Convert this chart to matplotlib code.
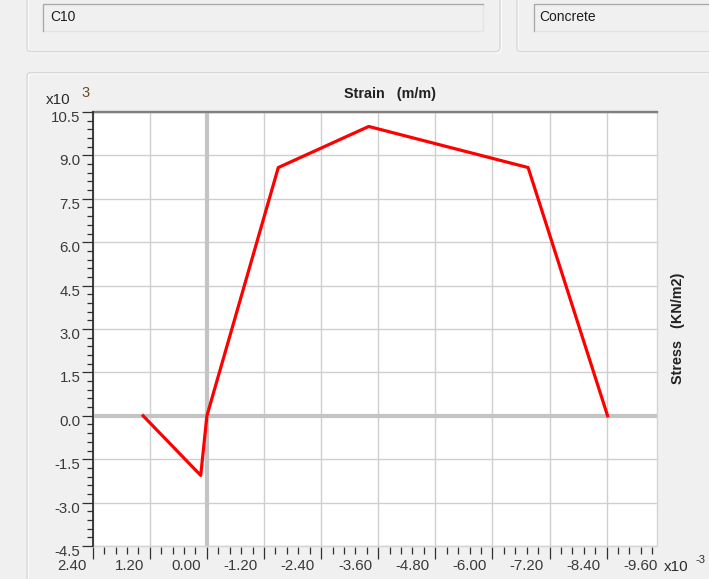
import numpy as np
import matplotlib
matplotlib.use('Agg')
import matplotlib.pyplot as plt
from matplotlib.ticker import MultipleLocator, AutoMinorLocator
from matplotlib.patches import Rectangle, FancyBboxPatch
from matplotlib.transforms import offset_copy, ScaledTranslation, blended_transform_factory

plt.rcParams['font.family'] = ['Liberation Sans', 'DejaVu Sans']

# stress-strain curve (strain x10^-3, stress x10^3 KN/m2)
strain = [1.34, 0.13, 0.0, -1.5, -3.4, -6.75, -8.42]
stress = [0.0, -2.06, 0.0, 8.58, 10.0, 8.58, 0.0]

x_ticks = [2.4, 1.2, 0.0, -1.2, -2.4, -3.6, -4.8, -6.0, -7.2, -8.4, -9.6]
x_labels = ['2.40', '1.20', '0.00', '-1.20', '-2.40', '-3.60', '-4.80',
            '-6.00', '-7.20', '-8.40', '-9.60']
y_ticks = [10.5, 9.0, 7.5, 6.0, 4.5, 3.0, 1.5, 0.0, -1.5, -3.0, -4.5]
y_labels = ['10.5', '9.0', '7.5', '6.0', '4.5', '3.0', '1.5', '0.0',
            '-1.5', '-3.0', '-4.5']

W, H = 709, 579
BG = '#f0f0f0'
TXT = '#3a3a3a'

fig = plt.figure(figsize=(W / 100, H / 100), dpi=100, facecolor=BG)

# window background with group boxes and text fields (pixel coords)
bg = fig.add_axes([0, 0, 1, 1], zorder=0)
bg.set_xlim(0, W)
bg.set_ylim(H, 0)
bg.axis('off')
bg.set_facecolor(BG)
for x0, y0, w, h in [(27, -20, 473, 71.7), (517, -20, 260, 71.7), (27, 72.7, 760, 560)]:
    bg.add_patch(FancyBboxPatch((x0 + 1, y0 + 1), w, h, boxstyle='round,pad=0,rounding_size=4',
                                fc='none', ec='white', lw=1))
    bg.add_patch(FancyBboxPatch((x0, y0), w, h, boxstyle='round,pad=0,rounding_size=4',
                                fc='none', ec='#d8d8d8', lw=1))
for x0, w in [(43, 440), (534, 220)]:
    bg.add_patch(Rectangle((x0, 4), w, 27, fc=BG, ec='#e4e4e4', lw=1))
    bg.plot([x0, x0, x0 + w], [31, 4, 4], color='#a8a8a8', lw=0.9)
bg.text(50, 17, 'C10', ha='left', va='center', fontsize=10, color='#1e1e1e')
bg.text(539, 17, 'Concrete', ha='left', va='center', fontsize=10, color='#1e1e1e')

# main plot
left, right, top, bottom = 92.7, 656.6, 112, 546
ax = fig.add_axes([left / W, 1 - bottom / H, (right - left) / W, (bottom - top) / H], zorder=1)
ax.set_facecolor('white')

ax.plot(strain, stress, color='#ff0000', lw=2.3, zorder=4)
ax.axhline(0, color='#c4c4c4', lw=3, zorder=2)
ax.axvline(0, color='#c4c4c4', lw=3, zorder=2)

ax.set_xlim(2.4, -9.45)
ax.set_ylim(-4.5, 10.5)
ax.xaxis.set_major_locator(MultipleLocator(1.2))
ax.xaxis.set_minor_locator(AutoMinorLocator(5))
ax.set_yticks(y_ticks)
ax.set_yticklabels(y_labels)
ax.yaxis.set_minor_locator(AutoMinorLocator(5))
ax.grid(which='major', color='#cfcfcf', lw=1.0, zorder=1)
ax.set_axisbelow(True)

for s in ['top', 'right', 'bottom', 'left']:
    ax.spines[s].set_visible(False)
ax.spines['bottom'].set_position(('outward', 1))
ax.add_patch(Rectangle((0, 0), 1, 1, transform=ax.transAxes, fill=False,
                       ec='#d4d4d4', lw=1, clip_on=False, zorder=5))
ax.plot([0, 1], [1, 1], transform=ax.transAxes, color='#808080', lw=1.7,
        clip_on=False, zorder=6)
ax.plot([0, 0], [0, 1], transform=ax.transAxes, color='#202020', lw=1.2,
        clip_on=False, zorder=6)

ax.tick_params(axis='x', which='major', direction='out', length=8.3, width=0.9,
               color='#303030', labelbottom=False)
ax.tick_params(axis='x', which='minor', direction='out', length=5, width=0.9, color='#303030')
ax.tick_params(axis='y', which='major', direction='out', length=7.9, width=0.9,
               color='#303030', labelsize=10.8, labelcolor=TXT, pad=1)
ax.tick_params(axis='y', which='minor', direction='out', length=4.3, width=0.9, color='#303030')

shift = ScaledTranslation(0, -0.045, fig.dpi_scale_trans)
for lab in ax.get_yticklabels():
    lab.set_transform(lab.get_transform() + shift)

xtrans = offset_copy(blended_transform_factory(ax.transData, ax.transAxes),
                     fig=fig, x=-6, y=-20.5, units='dots')
for v, lab in zip(x_ticks, x_labels):
    ax.text(v, 0, lab, transform=xtrans, ha='right', va='center',
            fontsize=10.8, color=TXT, clip_on=False)

# titles and multipliers
fig.text(390 / W, 1 - 94 / H, 'Strain   (m/m)', ha='center', va='center',
         fontsize=10.4, fontweight='bold', color='#222222')
fig.text(678 / W, 1 - 328 / H, 'Stress   (KN/m2)', ha='center', va='center',
         rotation=90, fontsize=10.4, fontweight='bold', color='#222222')
fig.text(58 / W, 1 - 100 / H, 'x10', ha='center', va='center', fontsize=11, color='#2a2a2a')
fig.text(86 / W, 1 - 93 / H, '3', ha='center', va='center', fontsize=10.5, color='#6a4a20')
fig.text(676 / W, 1 - 567 / H, 'x10', ha='center', va='center', fontsize=11, color='#2a2a2a')
fig.text(696 / W, 1 - 560 / H, '-3', ha='left', va='center', fontsize=8, color='#2a2a2a')

fig.savefig('out.png', dpi=100, facecolor=BG)
